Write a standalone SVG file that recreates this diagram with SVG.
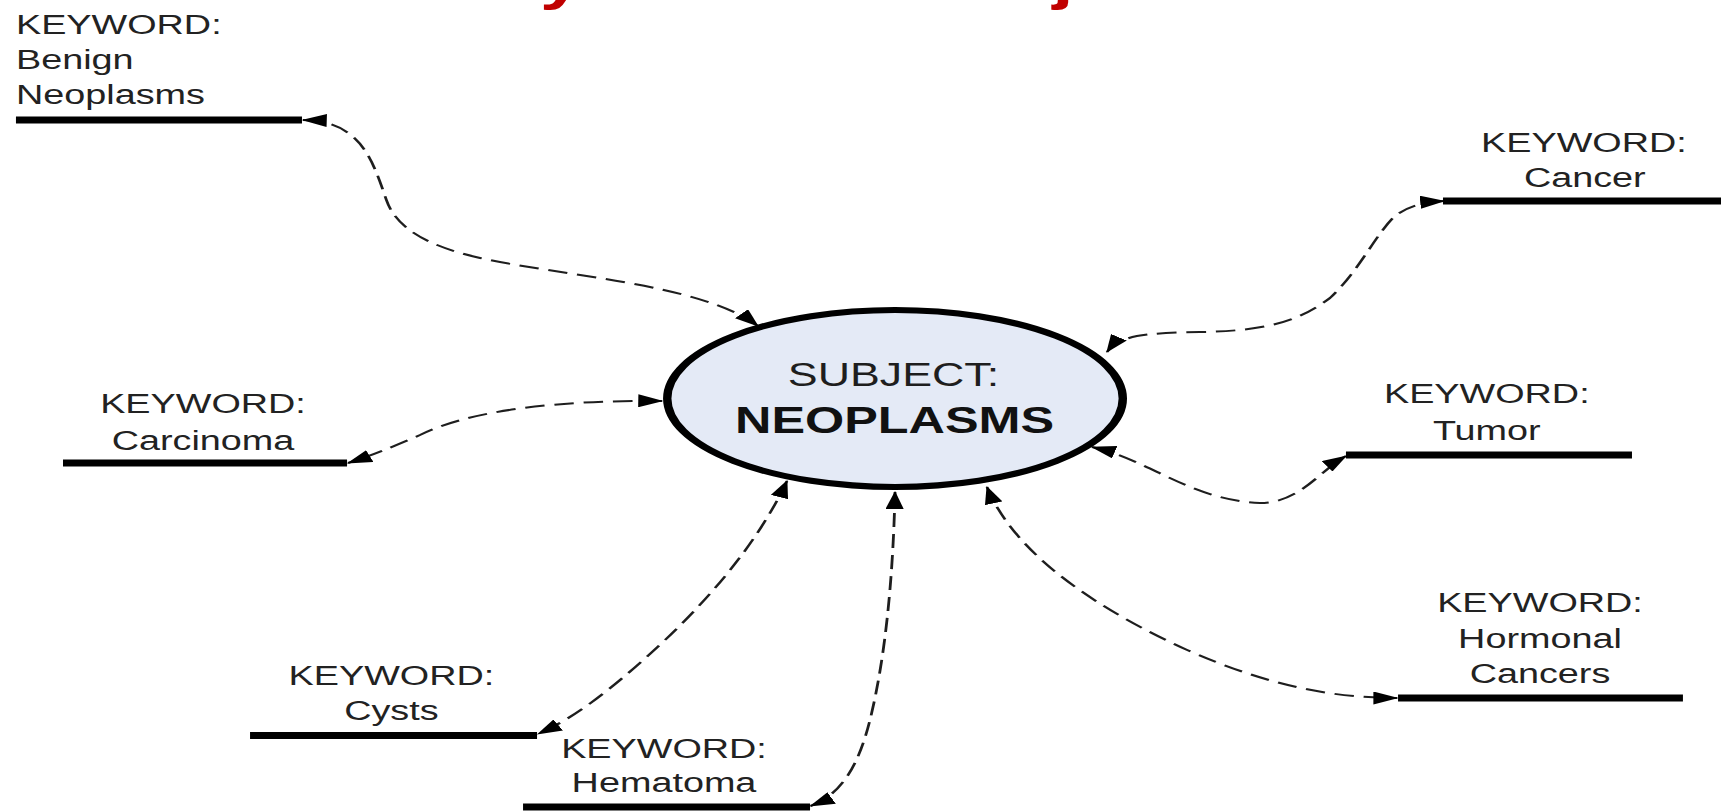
<svg xmlns="http://www.w3.org/2000/svg" width="1721" height="811" viewBox="0 0 1721 811">
<style>
.kw{font-family:"Liberation Sans",Arial,sans-serif;font-size:27px;fill:#222;text-anchor:middle}
.kwl{text-anchor:start}
.ul{stroke:#000;stroke-width:7}
.conn{fill:none;stroke:#1e1e1e;stroke-width:2;stroke-dasharray:14 7;marker-start:url(#ah);marker-end:url(#ah)}
.subj{font-family:"Liberation Sans",Arial,sans-serif;font-size:33px;fill:#1e1e1e;text-anchor:middle}
.neo{font-family:"Liberation Sans",Arial,sans-serif;font-size:36px;font-weight:bold;fill:#111;text-anchor:middle}
.title{font-family:"Liberation Sans",Arial,sans-serif;font-size:54px;font-weight:bold;fill:#c00000}
</style>
<defs>
<marker id="ah" markerUnits="userSpaceOnUse" viewBox="0 0 18 13" markerWidth="18" markerHeight="13" refX="17" refY="6.5" orient="auto-start-reverse">
<path d="M0,0 L18,6.5 L0,13 z" fill="#000"/>
</marker>
</defs>
<rect width="1721" height="811" fill="#fff"/>
<g transform="scale(1.4,1)">
<text class="title" x="316.7" y="-1">Keyword vs. Subject</text>
<g id="connectors">
<path class="conn" d="M216.4,120 C258,121 266,160 276,200 C283,228 305,246 342.9,258 C400,276 500,283 541.4,326"/>
<path class="conn" d="M790.7,352 C800,336 814.3,333 857.1,332 C907.1,331 928.6,320 950,298 C971.4,270 982.1,235 996.4,216 C1007.1,205 1017.9,202 1031.4,201"/>
<path class="conn" d="M472.9,401 C400,400 335.7,410 300,435 C278.6,448 264.3,456 248.6,463"/>
<path class="conn" d="M780,447 C821.4,460 850,500 900,503 C928.6,503 942.9,470 961.4,456"/>
<path class="conn" d="M705,487 C725,555 785,610 848,650 C905,685 950,698 998,698"/>
<path class="conn" d="M562.1,481 C535.7,560 485.7,630 442.9,680 C421.4,705 403.6,722 384.3,734"/>
<path class="conn" d="M639.3,492 C637.9,580 632.1,660 621.4,720 C612.9,768 600,795 579,806"/>
</g>
<g id="subject">
<ellipse cx="639.3" cy="398.5" rx="162.7" ry="88.5" fill="#e4eaf6" stroke="#000" stroke-width="6"/>
<text class="subj" x="638.2" y="386" textLength="151" lengthAdjust="spacingAndGlyphs">SUBJECT:</text>
<text class="neo" x="639" y="433">NEOPLASMS</text>
</g>
<g id="kw-benign">
<text class="kw kwl" x="11.4" y="34">KEYWORD:</text>
<text class="kw kwl" x="11.4" y="69">Benign</text>
<text class="kw kwl" x="11.4" y="104">Neoplasms</text>
<line class="ul" x1="11.4" y1="120" x2="215.7" y2="120"/>
</g>
<g id="kw-cancer">
<text class="kw" x="1131.4" y="152">KEYWORD:</text>
<text class="kw" x="1132" y="187">Cancer</text>
<line class="ul" x1="1030.7" y1="201" x2="1230" y2="201"/>
</g>
<g id="kw-carcinoma">
<text class="kw" x="145" y="413">KEYWORD:</text>
<text class="kw" x="145" y="450">Carcinoma</text>
<line class="ul" x1="45" y1="463" x2="247.9" y2="463"/>
</g>
<g id="kw-tumor">
<text class="kw" x="1062" y="403">KEYWORD:</text>
<text class="kw" x="1062" y="440">Tumor</text>
<line class="ul" x1="961.4" y1="455" x2="1165.7" y2="455"/>
</g>
<g id="kw-hormonal">
<text class="kw" x="1100" y="612">KEYWORD:</text>
<text class="kw" x="1100" y="648">Hormonal</text>
<text class="kw" x="1100" y="683">Cancers</text>
<line class="ul" x1="998.6" y1="698" x2="1202.1" y2="698"/>
</g>
<g id="kw-cysts">
<text class="kw" x="279.6" y="685">KEYWORD:</text>
<text class="kw" x="279.6" y="720">Cysts</text>
<line class="ul" x1="178.6" y1="735.5" x2="383.6" y2="735.5"/>
</g>
<g id="kw-hematoma">
<text class="kw" x="474.3" y="758">KEYWORD:</text>
<text class="kw" x="474.3" y="792">Hematoma</text>
<line class="ul" x1="373.6" y1="807" x2="578.6" y2="807"/>
</g>
</g>
</svg>
